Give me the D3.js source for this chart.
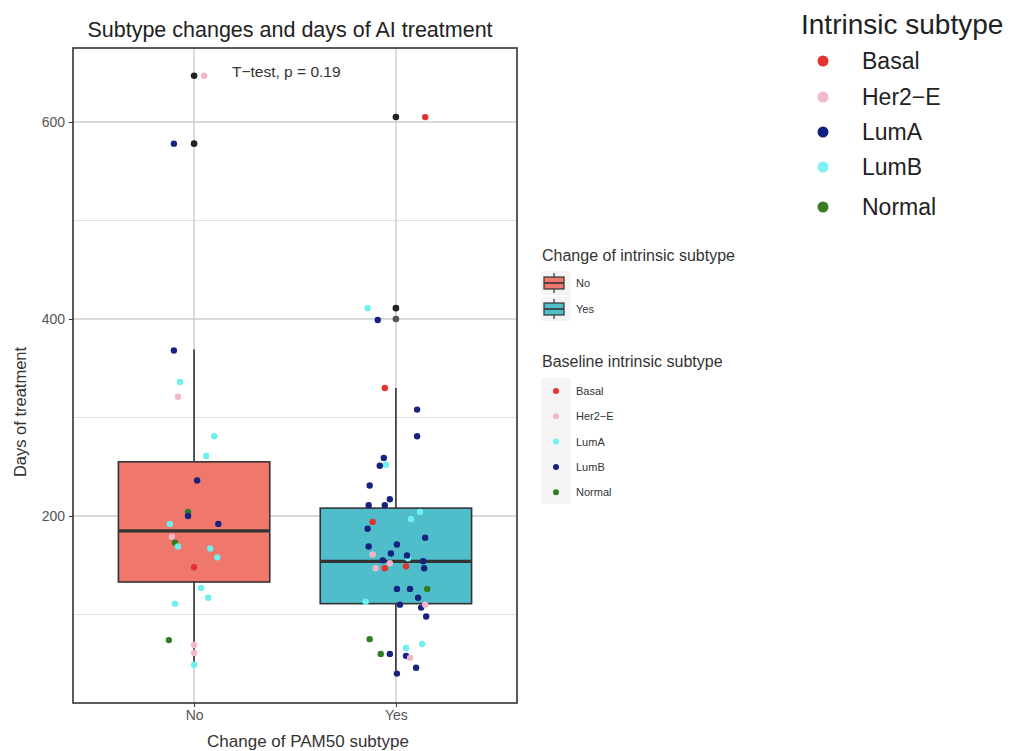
<!DOCTYPE html>
<html>
<head>
<meta charset="utf-8">
<script src="https://cdn.jsdelivr.net/npm/d3@7"></script>
<style>
  body { margin: 0; background: #fff; }
  svg { display: block; font-family: "Liberation Sans", Arial, Helvetica, sans-serif; }
</style>
</head>
<body>
<svg id="chart" width="1016" height="751"></svg>
<script>
// Groups on the x axis
const groups = ["No", "Yes"];
const groupFill = ["#ef776c", "#4fbdca"];

// Boxplot summary per group: lower whisker, Q1, median, Q3, upper whisker
const whiskerLow = [49, 40];
const q1 = [133, 111];
const median = [185, 154];
const q3 = [255, 208];
const whiskerHigh = [369, 330];
const outliers = [[647, 578], [605, 411, 400]];

// Patients: group index, days of treatment, baseline subtype, horizontal jitter
const pGroup = [
  0,0,0,0,0,0,0,0,0,0,0,0,0,0,0,0,0,0,0,0,0,0,0,0,0,
  1,1,1,1,1,1,1,1,1,1,1,1,1,1,1,1,1,1,1,1,1,1,1,1,1,1,1,1,1,1,1,1,1,1,1,1,1,1,1,1,1,1,1,1,1,1,1,1,1
];
const pDays = [
  647,578,368,336,321,281,261,236,204,200,192,192,179,173,169,167,158,148,127,117,111,74,69,61,49,
  605,411,399,330,308,281,259,252,251,231,217,211,211,204,197,194,187,178,169,161,162,171,157,160,155,
  147,147,152,149,154,147,126,126,126,117,113,110,107,110,98,75,66,70,60,60,58,56,46,40
];
const pType = [
  "Her2-E","LumB","LumB","LumA","Her2-E","LumA","LumA","LumB","Normal","LumB","LumA","LumB","Her2-E",
  "Normal","LumA","LumA","LumA","Basal","LumA","LumA","LumA","Normal","Her2-E","Her2-E","LumA",
  "Basal","LumA","LumB","Basal","LumB","LumB","LumB","LumA","LumB","LumB","LumB","LumB","LumB","LumA",
  "LumA","Basal","LumB","LumB","LumB","Her2-E","LumB","LumB","LumA","LumB","LumB","Her2-E","Basal",
  "Her2-E","Basal","LumB","LumB","LumB","LumB","Normal","LumB","LumA","LumB","LumB","Her2-E","LumB",
  "Normal","LumA","LumA","Normal","LumB","LumB","Her2-E","LumB","LumB"
];
const pJitter = [
  0.05,-0.10,-0.10,-0.07,-0.08,0.10,0.06,0.015,-0.03,-0.03,-0.12,0.12,-0.11,-0.095,-0.08,0.08,0.115,0,0.035,0.07,-0.095,-0.125,0,0,0,
  0.145,-0.14,-0.09,-0.055,0.105,0.105,-0.06,-0.05,-0.08,-0.13,-0.03,-0.135,-0.055,0.12,0.075,-0.115,-0.14,0.145,-0.135,-0.115,-0.025,0.005,0.06,0.055,-0.065,
  -0.1,-0.055,-0.03,0.05,0.135,0.14,0.005,0.07,0.155,0.11,-0.15,0.02,0.125,0.145,0.15,-0.13,0.05,0.13,-0.075,-0.03,0.05,0.07,0.10,0.005
];

// Baseline subtype legend (plot colours)
const subtypes = ["Basal", "Her2-E", "LumA", "LumB", "Normal"];
const subtypeColors = ["#e4322f", "#f3b7c9", "#6cf0f0", "#17237f", "#2f7d21"];

// Stand-alone "Intrinsic subtype" key
const keyLabels = ["Basal", "Her2\u2212E", "LumA", "LumB", "Normal"];
const keyColors = ["#e23232", "#f2b8cb", "#142080", "#7ff0f2", "#3a7d22"];

const yTicks = [200, 400, 600];
const yMinor = [100, 300, 500];

const svg = d3.select("#chart");

const panel = { left: 73, right: 517, top: 48, bottom: 703 };

const x = d3.scaleLinear().domain([-0.6, 1.6]).range([panel.left, panel.right]);
const y = d3.scaleLinear().domain([0, 600]).range([713, 122]);
const color = d3.scaleOrdinal().domain(subtypes).range(subtypeColors);
const bandPx = x(1) - x(0);

// Panel background and grid
const g = svg.append("g");
g.append("rect").attr("x", panel.left).attr("y", panel.top)
  .attr("width", panel.right - panel.left).attr("height", panel.bottom - panel.top)
  .attr("fill", "#fff");

g.selectAll(".minor").data(yMinor).join("line")
  .attr("x1", panel.left).attr("x2", panel.right)
  .attr("y1", d => y(d)).attr("y2", d => y(d))
  .attr("stroke", "#e2e2e2").attr("stroke-width", 1);
g.selectAll(".major").data(yTicks).join("line")
  .attr("x1", panel.left).attr("x2", panel.right)
  .attr("y1", d => y(d)).attr("y2", d => y(d))
  .attr("stroke", "#cdcdcd").attr("stroke-width", 1.4);
g.selectAll(".vmajor").data(groups).join("line")
  .attr("x1", (d, i) => x(i)).attr("x2", (d, i) => x(i))
  .attr("y1", panel.top).attr("y2", panel.bottom)
  .attr("stroke", "#cdcdcd").attr("stroke-width", 1.4);

// Boxplots
const boxW = 0.75 * bandPx;
groups.forEach((grp, i) => {
  const cx = x(i);
  g.append("line").attr("x1", cx).attr("x2", cx)
    .attr("y1", y(q3[i])).attr("y2", y(whiskerHigh[i]))
    .attr("stroke", "#333").attr("stroke-width", 1.6);
  g.append("line").attr("x1", cx).attr("x2", cx)
    .attr("y1", y(q1[i])).attr("y2", y(whiskerLow[i]))
    .attr("stroke", "#333").attr("stroke-width", 1.6);
  g.append("rect").attr("x", cx - boxW / 2).attr("y", y(q3[i]))
    .attr("width", boxW).attr("height", y(q1[i]) - y(q3[i]))
    .attr("fill", groupFill[i]).attr("stroke", "#333").attr("stroke-width", 1.6);
  g.append("line").attr("x1", cx - boxW / 2).attr("x2", cx + boxW / 2)
    .attr("y1", y(median[i])).attr("y2", y(median[i]))
    .attr("stroke", "#333").attr("stroke-width", 3.2);
  g.selectAll(null).data(outliers[i]).join("circle")
    .attr("cx", cx).attr("cy", d => y(d)).attr("r", 3.3)
    .attr("fill", (d, k) => (i === 1 && k === 2) ? "#555" : "#222");
});

// Jittered patient points
const pts = pDays.map((d, i) => ({ g: pGroup[i], v: d, t: pType[i], j: pJitter[i] }));
g.selectAll(".pt").data(pts).join("circle")
  .attr("cx", d => x(d.g + d.j))
  .attr("cy", d => y(d.v))
  .attr("r", 3.2)
  .attr("fill", d => color(d.t));

// Panel border
g.append("rect").attr("x", panel.left).attr("y", panel.top)
  .attr("width", panel.right - panel.left).attr("height", panel.bottom - panel.top)
  .attr("fill", "none").attr("stroke", "#333").attr("stroke-width", 1.6);

// Axes
const yAxis = svg.append("g").attr("transform", `translate(${panel.left},0)`)
  .call(d3.axisLeft(y).tickValues(yTicks).tickSize(4).tickPadding(4));
yAxis.select(".domain").remove();
yAxis.selectAll("line").attr("stroke", "#333");
yAxis.selectAll("text").attr("fill", "#555").style("font-size", "14px")
  .style("font-family", "Liberation Sans, Arial, sans-serif");

const xAxis = svg.append("g").attr("transform", `translate(0,${panel.bottom})`)
  .call(d3.axisBottom(x).tickValues([0, 1]).tickFormat(i => groups[i]).tickSize(4).tickPadding(3));
xAxis.select(".domain").remove();
xAxis.selectAll("line").attr("stroke", "#333");
xAxis.selectAll("text").attr("fill", "#555").style("font-size", "14px")
  .style("font-family", "Liberation Sans, Arial, sans-serif");

// Titles
svg.append("text").attr("x", 290).attr("y", 37)
  .attr("text-anchor", "middle").attr("fill", "#222").style("font-size", "21.5px")
  .text("Subtype changes and days of AI treatment");
svg.append("text").attr("x", 232).attr("y", 77)
  .attr("fill", "#333").style("font-size", "15.5px")
  .text("T\u2212test, p = 0.19");
svg.append("text").attr("x", 308).attr("y", 747)
  .attr("text-anchor", "middle").attr("fill", "#333").style("font-size", "17px")
  .text("Change of PAM50 subtype");
svg.append("text").attr("transform", "translate(26,412) rotate(-90)")
  .attr("text-anchor", "middle").attr("fill", "#333").style("font-size", "16.5px")
  .text("Days of treatment");

// Legend: change of intrinsic subtype
const lg1 = svg.append("g").attr("transform", "translate(542,0)");
lg1.append("text").attr("x", 0).attr("y", 261).attr("fill", "#333").style("font-size", "16px")
  .text("Change of intrinsic subtype");
groups.forEach((grp, i) => {
  const cy = 283 + i * 26;
  lg1.append("rect").attr("x", -1).attr("y", cy - 12).attr("width", 30).attr("height", 24).attr("fill", "#f4f4f4");
  lg1.append("line").attr("x1", 12).attr("x2", 12).attr("y1", cy - 10).attr("y2", cy + 10)
    .attr("stroke", "#333").attr("stroke-width", 1.2);
  lg1.append("rect").attr("x", 2).attr("y", cy - 6).attr("width", 20).attr("height", 12)
    .attr("fill", groupFill[i]).attr("stroke", "#333").attr("stroke-width", 1.2);
  lg1.append("line").attr("x1", 2).attr("x2", 22).attr("y1", cy).attr("y2", cy)
    .attr("stroke", "#333").attr("stroke-width", 1.6);
  lg1.append("text").attr("x", 34).attr("y", cy + 4).attr("fill", "#333").style("font-size", "11px").text(grp);
});

// Legend: baseline intrinsic subtype
const lg2 = svg.append("g").attr("transform", "translate(542,0)");
lg2.append("text").attr("x", 0).attr("y", 367).attr("fill", "#333").style("font-size", "16px")
  .text("Baseline intrinsic subtype");
lg2.append("rect").attr("x", -1).attr("y", 378).attr("width", 30).attr("height", 126).attr("fill", "#f4f4f4");
subtypes.forEach((s, i) => {
  const cy = 391 + i * 25.3;
  lg2.append("circle").attr("cx", 14).attr("cy", cy).attr("r", 3).attr("fill", subtypeColors[i]);
  lg2.append("text").attr("x", 34).attr("y", cy + 4).attr("fill", "#333").style("font-size", "11px").text(s === "Her2-E" ? "Her2\u2212E" : s);
});

// Stand-alone key: intrinsic subtype
const lg3 = svg.append("g");
lg3.append("text").attr("x", 801).attr("y", 34).attr("fill", "#222").style("font-size", "28px")
  .text("Intrinsic subtype");
const keyY = [61, 97, 132, 167, 207];
keyLabels.forEach((s, i) => {
  lg3.append("circle").attr("cx", 823).attr("cy", keyY[i]).attr("r", 5.5).attr("fill", keyColors[i]);
  lg3.append("text").attr("x", 862).attr("y", keyY[i] + 8).attr("fill", "#222").style("font-size", "23px").text(s);
});
</script>
</body>
</html>
